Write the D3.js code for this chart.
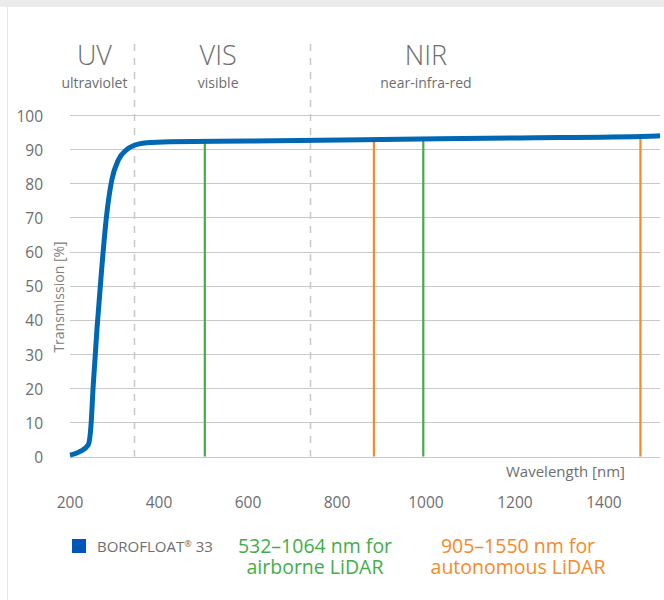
<!DOCTYPE html>
<html>
<head>
<meta charset="utf-8">
<script src="https://cdn.jsdelivr.net/npm/d3@7"></script>
<style>
  html, body { margin: 0; padding: 0; background: #fff; }
  svg { display: block; font-family: "Open Sans", "Noto Sans", sans-serif; }
</style>
</head>
<body>
<svg id="chart" width="664" height="600"></svg>
<script>
// transmission curve of BOROFLOAT 33
const wavelengths  = [200, 222, 241, 247, 252, 261, 271, 282, 294, 309, 327, 342, 372, 425, 604, 942, 1211, 1503, 1526];
const transmission = [0.4, 1.4, 3.4, 8.7, 20.4, 38, 54.6, 70.3, 81, 86.9, 89.8, 91, 91.9, 92.2, 92.4, 92.9, 93.3, 93.8, 93.9];

const xTicks = [200, 400, 600, 800, 1000, 1200, 1400];
const yTicks = [0, 10, 20, 30, 40, 50, 60, 70, 80, 90, 100];

// spectral region borders and labels
const regionBorders = [344, 739];
const regionNames = ['UV', 'VIS', 'NIR'];
const regionSubs = ['ultraviolet', 'visible', 'near-infra-red'];
const regionCenters = [255, 533, 1000];

// LiDAR marker lines (positions as drawn)
const airborneLines = [503, 994];
const autonomousLines = [883, 1482];

const svg = d3.select('#chart');
const width = +svg.attr('width');
const height = +svg.attr('height');

const margin = { left: 70, right: 4, top: 115, bottom: 144 };

const x = d3.scaleLinear().domain([200, 1526]).range([margin.left, width - margin.right]);
const y = d3.scaleLinear().domain([0, 100]).range([height - margin.bottom + 0.5, margin.top]);

const grey = '#6d6e70';
const blue = '#0067b3';
const green = '#43ad4a';
const orange = '#f68a2a';

// frame of the panel
svg.append('rect').attr('x', 0).attr('y', 0).attr('width', width).attr('height', 7).attr('fill', '#ebebeb');
svg.append('line').attr('x1', 7.5).attr('x2', 7.5).attr('y1', 7).attr('y2', height)
  .attr('stroke', '#e6e6e6').attr('stroke-width', 1);

// y grid + labels
const yAxis = svg.append('g').attr('class', 'y-axis');
yAxis.selectAll('line.grid').data(yTicks).enter().append('line')
  .attr('class', 'grid')
  .attr('x1', x(200)).attr('x2', x(1526))
  .attr('y1', d => Math.round(y(d)) + 0.5).attr('y2', d => Math.round(y(d)) + 0.5)
  .attr('stroke', '#c9c9c9').attr('stroke-width', 1.2);
yAxis.selectAll('text').data(yTicks).enter().append('text')
  .attr('x', 43).attr('y', d => y(d) + 6.5)
  .attr('text-anchor', 'end')
  .attr('font-size', 15.5).attr('fill', grey)
  .text(d => d);

svg.append('text')
  .attr('transform', `translate(64,297) rotate(-90)`)
  .attr('text-anchor', 'middle')
  .attr('font-size', 14).attr('fill', '#808080')
  .text('Transmission [%]');

// x labels
svg.append('g').selectAll('text').data(xTicks).enter().append('text')
  .attr('x', d => x(d)).attr('y', 508)
  .attr('text-anchor', 'middle')
  .attr('font-size', 15.5).attr('fill', grey)
  .text(d => d);

svg.append('text')
  .attr('x', 625).attr('y', 477)
  .attr('text-anchor', 'end')
  .attr('font-size', 15).attr('fill', grey)
  .text('Wavelength [nm]');

// region borders
svg.append('g').selectAll('line').data(regionBorders).enter().append('line')
  .attr('x1', d => Math.round(x(d)) + 0.5).attr('x2', d => Math.round(x(d)) + 0.5)
  .attr('y1', 44).attr('y2', y(0))
  .attr('stroke', '#c8c8c8').attr('stroke-width', 1.5)
  .attr('stroke-dasharray', '7,7');

// region headings
const heads = svg.append('g');
heads.selectAll('text.name').data(regionNames).enter().append('text')
  .attr('class', 'name')
  .attr('x', (d, i) => x(regionCenters[i])).attr('y', 65)
  .attr('text-anchor', 'middle')
  .attr('font-size', 27).attr('font-weight', 300).attr('fill', grey)
  .text(d => d);
heads.selectAll('text.sub').data(regionSubs).enter().append('text')
  .attr('class', 'sub')
  .attr('x', (d, i) => x(regionCenters[i])).attr('y', 88)
  .attr('text-anchor', 'middle')
  .attr('font-size', 14).attr('fill', grey)
  .text(d => d);

// curve helper: value of the curve at a wavelength
const curveAt = w => {
  const i = d3.bisectLeft(wavelengths, w);
  if (i <= 0) return transmission[0];
  if (i >= wavelengths.length) return transmission[transmission.length - 1];
  const t = (w - wavelengths[i - 1]) / (wavelengths[i] - wavelengths[i - 1]);
  return transmission[i - 1] + t * (transmission[i] - transmission[i - 1]);
};

// LiDAR markers
const markers = airborneLines.map(w => ({ w, c: green }))
  .concat(autonomousLines.map(w => ({ w, c: orange })));
svg.append('g').selectAll('line').data(markers).enter().append('line')
  .attr('x1', d => x(d.w)).attr('x2', d => x(d.w))
  .attr('y1', y(0)).attr('y2', d => y(curveAt(d.w)))
  .attr('stroke', d => d.c).attr('stroke-width', 2.2);

// transmission curve
const line = d3.line()
  .x((d, i) => x(wavelengths[i]))
  .y(d => y(d))
  .curve(d3.curveMonotoneX);
svg.append('path')
  .datum(transmission)
  .attr('d', line)
  .attr('fill', 'none')
  .attr('stroke', blue)
  .attr('stroke-width', 5)
  .attr('stroke-linecap', 'butt');

// legend
const legend = svg.append('g');
legend.append('rect').attr('x', 72).attr('y', 539).attr('width', 14).attr('height', 14).attr('fill', '#0055b8');
const lt = legend.append('text').attr('x', 97).attr('y', 552).attr('font-size', 15).attr('fill', grey);
lt.append('tspan').text('BOROFLOAT');
lt.append('tspan').attr('font-size', 9).attr('dy', -5).text('®');
lt.append('tspan').attr('dy', 5).text(' 33');

const notes = [
  { lines: ['532–1064 nm for', 'airborne LiDAR'], cx: 315, c: green },
  { lines: ['905–1550 nm for', 'autonomous LiDAR'], cx: 518, c: orange }
];
notes.forEach(n => {
  n.lines.forEach((s, i) => {
    legend.append('text')
      .attr('x', n.cx).attr('y', 553 + i * 21)
      .attr('text-anchor', 'middle')
      .attr('font-size', 19.5).attr('fill', n.c)
      .text(s);
  });
});
</script>
</body>
</html>
